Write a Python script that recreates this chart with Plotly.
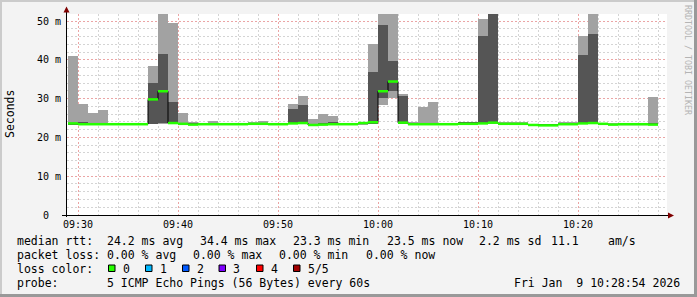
import plotly.graph_objects as go
import pandas as pd

# ---------------- data (one bar per minute, 09:29 .. 10:28) ----------------
start_minute = "2026-01-09 09:29:00"
ping_min = [23.3, 23.3, 23.3, 23.3, 23.3, 23.3, 23.3, 23.3, 23.4, 23.5,
            23.5, 23.3, 23.2, 23.3, 23.3, 23.3, 23.3, 23.3, 23.3, 23.3,
            23.3, 23.3, 23.4, 23.5, 23.1, 23.2, 23.3, 23.3, 23.3, 23.4,
            23.4, 28.4, 30.2, 23.4, 23.2, 23.3, 23.3, 23.3, 23.3, 23.3,
            23.3, 23.4, 23.5, 23.3, 23.3, 23.3, 23.1, 23.0, 23.0, 23.3,
            23.3, 23.4, 23.4, 23.3, 23.2, 23.3, 23.3, 23.3, 23.2, None]
ping_lo = [23.4, 23.4, 23.4, 23.4, 23.4, 23.4, 23.4, 23.4, 23.5, 23.6,
           23.6, 23.4, 23.3, 23.4, 23.4, 23.4, 23.4, 23.4, 23.4, 23.4,
           23.4, 23.4, 23.5, 23.6, 23.2, 23.3, 23.4, 23.4, 23.4, 23.5,
           23.5, 30.1, 32.0, 23.5, 23.3, 23.4, 23.4, 23.4, 23.4, 23.4,
           23.4, 23.5, 23.6, 23.4, 23.4, 23.4, 23.2, 23.1, 23.1, 23.4,
           23.4, 23.5, 23.5, 23.4, 23.3, 23.4, 23.4, 23.4, 23.3, None]
median = [23.6, 23.4, 23.4, 23.4, 23.4, 23.4, 23.4, 23.4, 29.8, 31.9,
          23.7, 23.5, 23.3, 23.4, 23.4, 23.4, 23.4, 23.4, 23.5, 23.5,
          23.4, 23.4, 23.6, 23.7, 23.2, 23.3, 23.4, 23.4, 23.4, 23.7,
          23.9, 31.9, 34.4, 23.8, 23.4, 23.4, 23.4, 23.4, 23.4, 23.5,
          23.5, 23.6, 23.8, 23.5, 23.5, 23.5, 23.2, 23.1, 23.1, 23.4,
          23.4, 23.6, 23.7, 23.5, 23.3, 23.4, 23.4, 23.4, 23.3, None]
ping_hi = [23.7, 24.0, 23.5, 23.5, 23.5, 23.5, 23.5, 23.5, 34.1, 41.5,
           29.2, 23.6, 23.5, 23.6, 23.6, 23.5, 23.5, 23.5, 23.5, 23.5,
           23.5, 23.5, 27.3, 28.4, 23.4, 23.5, 23.9, 23.5, 23.5, 23.8,
           36.9, 49.0, 39.8, 30.7, 23.5, 23.5, 23.5, 23.5, 23.5, 23.9,
           23.9, 46.1, 56.0, 23.6, 23.6, 23.6, 23.3, 23.2, 23.2, 23.6,
           23.6, 41.2, 46.6, 23.6, 23.4, 23.5, 23.5, 23.5, 23.5, None]
ping_max = [41.0, 28.6, 26.3, 27.1, 23.6, 23.6, 23.6, 23.6, 38.4, 56.0,
            49.6, 26.3, 24.0, 23.8, 24.2, 23.6, 23.6, 23.6, 23.9, 24.2,
            23.6, 23.6, 28.6, 30.7, 24.7, 26.0, 25.5, 23.6, 23.6, 23.9,
            44.1, 56.0, 56.0, 31.2, 24.0, 27.8, 29.1, 23.6, 23.6, 24.0,
            24.0, 50.5, 57.0, 24.0, 24.0, 24.0, 23.5, 23.4, 23.4, 24.0,
            24.0, 46.1, 56.0, 23.7, 23.5, 23.6, 23.6, 23.6, 30.5, None]

y_ticks = [0, 10, 20, 30, 40, 50]
y_tick_labels = ["0\u00a0\u00a0", "10 m", "20 m", "30 m", "40 m", "50 m"]
loss_labels = ["0", "1", "2", "3", "4", "5/5"]
loss_colors = ["#26ff00", "#00b8ff", "#0059ff", "#7e00ff", "#ff0000", "#a10000"]

# ---------------- figure geometry ----------------
W, H = 697, 297
ML, MR, MT, MB = 67, 30, 14, 82
PW, PH = W - ML - MR, H - MT - MB
MONO = "DejaVu Sans Mono"


def px(xp):
    return (xp - ML) / PW


def py(yp):
    return (MT + PH - yp) / PH


n = len(median)
t0 = pd.Timestamp(start_minute)
centers = [t0 + pd.Timedelta(seconds=60 * i + 30) for i in range(n)]
lefts = [t0 + pd.Timedelta(seconds=60 * i) for i in range(n + 1)]
WIDTH_MS = 60000

fig = go.Figure()

# outer smoke (min..max)
fig.add_trace(go.Bar(
    x=centers,
    y=[(b - a) if a is not None else None for a, b in zip(ping_min, ping_max)],
    base=ping_min, width=WIDTH_MS, marker=dict(color="#a2a2a2", line=dict(width=0)),
    hoverinfo="skip", showlegend=False))
# inner smoke (p2..p4)
fig.add_trace(go.Bar(
    x=centers,
    y=[(b - a) if a is not None else None for a, b in zip(ping_lo, ping_hi)],
    base=ping_lo, width=WIDTH_MS, marker=dict(color="#555555", line=dict(width=0)),
    hoverinfo="skip", showlegend=False))

# black stair line of the median
sx, sy = [], []
for i in range(n):
    if median[i] is None:
        continue
    sx += [lefts[i], lefts[i + 1]]
    sy += [median[i], median[i]]
fig.add_trace(go.Scatter(x=sx, y=sy, mode="lines", line=dict(color="#000000", width=1),
                         hoverinfo="skip", showlegend=False))

# green median segments
gx, gy = [], []
for i in range(n):
    if median[i] is None:
        continue
    gx += [lefts[i], lefts[i + 1], None]
    gy += [median[i], median[i], None]
fig.add_trace(go.Scatter(x=gx, y=gy, mode="lines", line=dict(color=loss_colors[0], width=2.5),
                         hoverinfo="skip", showlegend=False, connectgaps=False))

x_start = pd.Timestamp("2026-01-09 09:28:54")
x_end = pd.Timestamp("2026-01-09 10:28:54")

fig.update_layout(
    width=W, height=H,
    margin=dict(l=ML, r=MR, t=MT, b=MB, pad=0),
    paper_bgcolor="#f3f3f3", plot_bgcolor="#ffffff",
    barmode="overlay", bargap=0,
    showlegend=False,
    font=dict(family=MONO, size=10, color="#000000"),
)
fig.update_xaxes(
    type="date", range=[x_start, x_end],
    tickmode="linear", tick0="2026-01-09 09:30:00", dtick=600000,
    tickformat="%H:%M", ticks="", showline=False, zeroline=False,
    tickfont=dict(family=MONO, size=10, color="#000000"),
    showgrid=True, gridcolor="#eba5a5", griddash="2px,2px", gridwidth=1,
    minor=dict(tick0="2026-01-09 09:30:00", dtick=120000, showgrid=True,
               gridcolor="#d4d4d4", griddash="2px,2px", gridwidth=1),
    ticklabelstandoff=2,
)
fig.update_yaxes(
    range=[0, PH / 3.88],
    tickmode="array", tickvals=y_ticks, ticktext=y_tick_labels,
    ticks="", showline=False, zeroline=False,
    tickfont=dict(family=MONO, size=10, color="#000000"),
    showgrid=True, gridcolor="#eba5a5", griddash="2px,2px", gridwidth=1,
    minor=dict(dtick=2, tick0=0, showgrid=True, gridcolor="#d4d4d4",
               griddash="2px,2px", gridwidth=1),
    ticklabelstandoff=5,
)

shapes = []
# frame of the image
shapes.append(dict(type="rect", xref="paper", yref="paper", x0=px(0), x1=px(W), y0=py(0), y1=py(2),
                   fillcolor="#cbcbcb", line=dict(width=0), layer="above"))
shapes.append(dict(type="rect", xref="paper", yref="paper", x0=px(0), x1=px(2), y0=py(0), y1=py(H),
                   fillcolor="#cbcbcb", line=dict(width=0), layer="above"))
shapes.append(dict(type="rect", xref="paper", yref="paper", x0=px(W - 3), x1=px(W), y0=py(0), y1=py(H),
                   fillcolor="#999999", line=dict(width=0), layer="above"))
shapes.append(dict(type="rect", xref="paper", yref="paper", x0=px(0), x1=px(W), y0=py(H - 3), y1=py(H),
                   fillcolor="#999999", line=dict(width=0), layer="above"))
# axes with arrows
shapes.append(dict(type="line", xref="paper", yref="paper", x0=px(66.5), x1=px(66.5), y0=py(217), y1=py(10),
                   line=dict(color="#000000", width=1), layer="above"))
shapes.append(dict(type="line", xref="paper", yref="paper", x0=px(62), x1=px(670), y0=py(215.5), y1=py(215.5),
                   line=dict(color="#000000", width=1), layer="above"))
shapes.append(dict(type="path", xref="paper", yref="paper",
                   path="M {},{} L {},{} L {},{} Z".format(px(63.5), py(12.5), px(69.5), py(12.5), px(66.5), py(6.5)),
                   fillcolor="#7f0000", line=dict(width=0), layer="above"))
shapes.append(dict(type="path", xref="paper", yref="paper",
                   path="M {},{} L {},{} L {},{} Z".format(px(668), py(212.5), px(668), py(218.5), px(674), py(215.5)),
                   fillcolor="#7f0000", line=dict(width=0), layer="above"))

annotations = []


def txt(x, y, s, anchor="left", size=11.5, color="#000000", angle=0, family=MONO):
    annotations.append(dict(x=px(x), y=py(y), xref="paper", yref="paper", text=s, showarrow=False,
                            xanchor=anchor, yanchor="middle", textangle=angle,
                            borderpad=0, borderwidth=0,
                            font=dict(family=family, size=size, color=color)))


txt(10, 114, "Seconds", anchor="center", angle=-90, size=11.5)
txt(688, 60, "RRDTOOL / TOBI OETIKER", anchor="center", angle=90, size=8.3, color="#b4b4b4")

row1 = [(16.7, "median rtt:"), (107.3, "24.2 ms avg"), (200, "34.4 ms max"), (293.3, "23.3 ms min"),
        (386.7, "23.5 ms now"), (479.3, "2.2 ms sd"), (550.7, "11.1"), (607.7, "am/s")]
row2 = [(16.7, "packet loss:"), (107.3, "0.00 % avg"), (193.3, "0.00 % max"), (279.3, "0.00 % min"),
        (366, "0.00 % now")]
for x, s in row1:
    txt(x, 241, s)
for x, s in row2:
    txt(x, 255, s)
txt(16.7, 269, "loss color:")
box_x = [108.5, 145.5, 182.5, 219, 256.5, 293.5]
for bx, lab, col in zip(box_x, loss_labels, loss_colors):
    shapes.append(dict(type="rect", xref="paper", yref="paper", x0=px(bx), x1=px(bx + 6.5),
                       y0=py(271.5), y1=py(265), fillcolor=col, line=dict(color="#000000", width=1),
                       layer="above"))
    txt(bx + 14.2, 269, lab)
txt(16.7, 283, "probe:")
txt(107.3, 283, "5 ICMP Echo Pings (56 Bytes) every 60s")
txt(680, 283, "Fri Jan \u00a09 10:28:54 2026", anchor="right")

fig.update_layout(shapes=shapes, annotations=annotations)
fig.write_html("out.html")
